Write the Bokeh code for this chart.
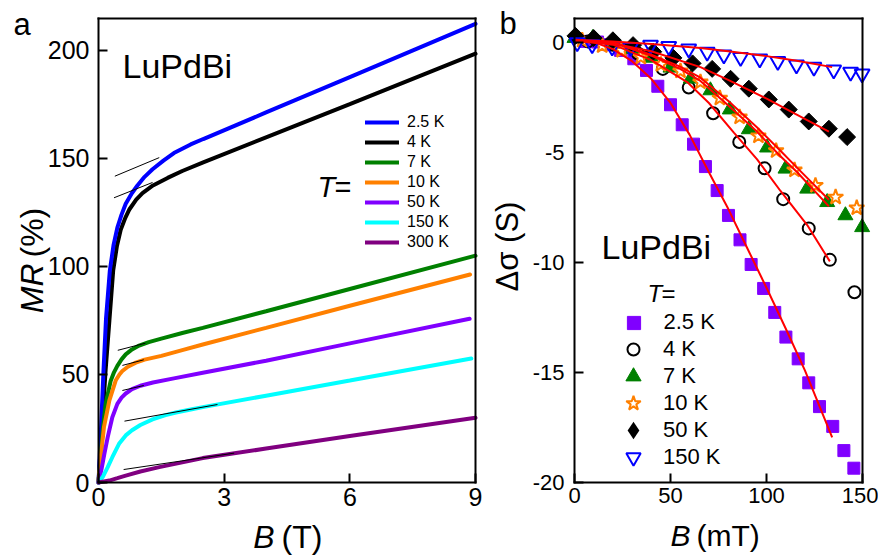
import math
from bokeh.plotting import figure
from bokeh.layouts import row
from bokeh.models import Range1d, FixedTicker, Label, Legend, LegendItem, LinearAxis
from bokeh.embed import file_html
from bokeh.resources import INLINE

FONT = "Liberation Sans"

# ---------------- panel a : MR (%) vs B (T) ----------------
b_25 = [0, 0.06, 0.12, 0.18, 0.27, 0.36, 0.45, 0.55, 0.65, 0.8, 0.93, 1.1, 1.29, 1.55, 1.8, 2.2, 2.5, 4.0, 6.0, 9.0]
mr_25 = [0, 25, 52, 76, 98, 110, 118, 124, 129, 134, 137.5, 141.5, 145, 149, 152.5, 156.5, 159, 171.3, 187.7, 212.3]
b_4 = [0, 0.08, 0.17, 0.26, 0.35, 0.44, 0.53, 0.64, 0.74, 0.9, 1.05, 1.3, 1.65, 2.0, 2.5, 4.0, 6.0, 9.0]
mr_4 = [0, 25, 52, 75, 98, 109.5, 117, 122.5, 126.5, 131, 134, 137.5, 141, 144.2, 148.2, 159.8, 175.2, 198.5]
b_7 = [0, 0.05, 0.1, 0.17, 0.29, 0.37, 0.45, 0.55, 0.65, 0.8, 0.97, 1.2, 1.5, 2.0, 2.49, 4.0, 6.0, 9.0]
mr_7 = [0, 12, 24, 36.4, 47, 51, 54, 57, 59.3, 61.6, 63.4, 65, 66.6, 69.2, 71.6, 79.3, 89.6, 105]
b_10 = [0, 0.05, 0.13, 0.26, 0.41, 0.5, 0.57, 0.7, 0.89, 1.1, 1.5, 2.0, 2.49, 4.0, 6.0, 8.87]
mr_10 = [0, 11, 25.6, 38, 47.2, 50, 51.6, 53.6, 55.5, 56.9, 58.6, 61.3, 63.9, 71.6, 81.8, 96.3]
b_50 = [0, 0.07, 0.14, 0.22, 0.33, 0.45, 0.55, 0.65, 0.8, 1.0, 1.3, 1.8, 2.49, 4.0, 6.0, 8.86]
mr_50 = [0, 6, 13.3, 21, 30.2, 36.4, 39.3, 41.2, 43.2, 44.8, 46.3, 48.2, 50.8, 56.4, 64.4, 75.8]
b_150 = [0, 0.1, 0.22, 0.33, 0.49, 0.65, 0.8, 1.0, 1.29, 1.6, 1.85, 2.2, 2.49, 4.0, 6.0, 8.9]
mr_150 = [0, 2.5, 7.1, 11.7, 17.9, 21.8, 24.2, 26.6, 29.2, 31.2, 32.4, 33.8, 34.9, 40.2, 47.2, 57.4]
b_300 = [0, 0.26, 0.45, 0.65, 1.0, 1.45, 2.0, 2.49, 4.0, 6.0, 9.0]
mr_300 = [0, 0.9, 2.0, 3.2, 5.1, 7.1, 9.3, 11.3, 15.7, 21.5, 30]

# thin linear-fit (tangent) segments: start / end points
tan_b0 = [0.39, 0.37, 0.46, 0.57, 0.57, 0.62, 0.60]
tan_m0 = [141.8, 131.8, 61.2, 54.2, 42.6, 28.4, 6.0]
tan_b1 = [1.45, 1.29, 1.12, 1.08, 1.08, 2.84, 3.24]
tan_m1 = [150.4, 138.9, 64.5, 56.8, 44.9, 36.1, 13.6]

temps_a = ["2.5 K", "4 K", "7 K", "10 K", "50 K", "150 K", "300 K"]
colors_a = ["#0000FF", "#000000", "#008000", "#FF8000", "#8000FF", "#00FFFF", "#800080"]

a_xlim = (0, 9)
a_ylim = (0, 214.8)
a_xticks = [0, 3, 6, 9]
a_yticks = [0, 50, 100, 150, 200]

# ---------------- panel b : delta sigma (S) vs B (mT) ----------------
sq_b = [6, 12, 18, 24, 30.9, 37.5, 43.4, 50, 56.1, 62, 68.2, 74.3, 80.2, 86.2, 92, 98.5,
        104.3, 110.1, 116.5, 122, 127.6, 134.5, 140.3, 145.5]
sq_s = [0.05, 0.02, -0.1, -0.36, -0.74, -1.27, -1.99, -2.83, -3.74, -4.62, -5.64, -6.73,
        -7.86, -8.97, -10.09, -11.18, -12.27, -13.39, -14.38, -15.47, -16.55, -17.45, -18.55, -19.35]
ci_b = [7, 20, 33, 46, 59.5, 72.2, 85.8, 99, 108.7, 122, 133, 145.8]
ci_s = [0.05, -0.1, -0.5, -1.2, -2.05, -3.22, -4.52, -5.72, -7.12, -8.45, -9.88, -11.35]
tr_b = [0, 9.5, 19.5, 30, 40, 50, 60.5, 70.8, 80.9, 90.8, 100.3, 109.9, 121.2, 131.6, 141.1, 149.8]
tr_s = [0.2, 0.2, 0.0, -0.3, -0.7, -1.15, -1.65, -2.18, -3.05, -3.95, -4.78, -5.74, -6.65, -7.26, -7.86, -8.4]
st_b = [4, 14.4, 24.5, 34.5, 45, 55.2, 65.6, 75.7, 86, 95.8, 105, 114.6, 125.5, 136, 147]
st_s = [0.1, -0.15, -0.36, -0.67, -1.0, -1.3, -1.8, -2.53, -3.39, -4.25, -4.92, -5.8, -6.5, -7.03, -7.52]
di_b = [0.5, 10, 20, 30.5, 41, 51.5, 61.5, 71.7, 81.3, 90.8, 101.2, 111.6, 122, 132.5, 142]
di_s = [0.3, 0.2, 0.1, -0.12, -0.42, -0.7, -0.95, -1.2, -1.65, -2.1, -2.59, -3.05, -3.59, -3.92, -4.3]
it_b = [1.4, 9.2, 19.6, 29.2, 39.6, 49.1, 59.5, 69.1, 77.8, 86.5, 96.5, 105.9, 115.6, 124.7, 135, 143.8, 149.8]
it_s = [0.0, -0.1, -0.2, -0.22, -0.12, -0.17, -0.29, -0.44, -0.56, -0.67, -0.74, -0.86, -1.02, -1.12, -1.24, -1.35, -1.42]

# fitted curves (red)
fsq_b = [0, 10, 20, 30, 40, 50, 60, 70, 80, 90, 100, 110, 120, 134.2]
fsq_s = [0.1, 0.02, -0.3, -0.85, -1.65, -2.75, -4.2, -5.9, -7.55, -9.35, -11.15, -13.0, -14.9, -17.95]
fci_b = [0, 20, 40, 58.7, 70, 83, 95, 107.3, 121.2, 133]
fci_s = [0.1, -0.1, -0.8, -1.8, -2.75, -4.1, -5.3, -6.75, -8.3, -9.95]
ftr_b = [0, 20, 40, 55, 65.6, 80, 95, 107, 116, 132.5]
ftr_s = [0.1, 0.0, -0.6, -1.2, -1.75, -2.85, -4.05, -5.15, -5.9, -7.45]
fst_b = [0, 20, 40, 55, 65.6, 80, 95, 107, 116, 132.5]
fst_s = [0.1, 0.0, -0.55, -1.1, -1.6, -2.65, -3.85, -4.9, -5.7, -7.15]
fdi_b = [0, 20, 40, 65.6, 80, 100.3, 115, 132.5]
fdi_s = [0.05, -0.05, -0.4, -1.12, -1.7, -2.56, -3.25, -4.05]
fit_b = [0, 20, 40, 65.6, 80, 100, 115, 134.2]
fit_s = [0.12, 0.05, -0.07, -0.25, -0.4, -0.62, -0.82, -1.12]

temps_b = ["2.5 K", "4 K", "7 K", "10 K", "50 K", "150 K"]
b_xlim = (0, 150)
b_ylim = (-20, 1.09)
b_xticks = [0, 50, 100, 150]
b_yticks = [0, -5, -10, -15, -20]
b_ylabels = {0: "0", -5: "-5", -10: "-10", -15: "-15", -20: "-20"}

# ---------------- layout (pixels) ----------------
H = 556
W1, W2 = 486, 392
A_BOX = (98, 475, 18, 482)      # left, right, top, bottom of panel a box
B_BOX = (88, 376, 18, 482)      # same for panel b (local to its canvas)
OFF = 0.4                        # label anchor -> baseline offset (em)


def ranges(box, W, xlim, ylim):
    l, r, t, b = box
    sx = (r - l) / (xlim[1] - xlim[0])
    sy = (b - t) / (ylim[1] - ylim[0])
    xr = Range1d(xlim[0] - l / sx, xlim[1] + (W - r) / sx)
    yr = Range1d(ylim[0] - (H - b) / sy, ylim[1] + t / sy)
    return xr, yr


def make_fig(W, box, xlim, ylim, xt, yt, fs, ystand, xstand):
    xr, yr = ranges(box, W, xlim, ylim)
    p = figure(width=W, height=H, x_range=xr, y_range=yr, min_border=0,
               output_backend="svg", toolbar_location=None)
    p.grid.visible = False
    p.outline_line_color = None
    p.xaxis.fixed_location = ylim[0]
    p.xaxis.bounds = xlim
    p.yaxis.fixed_location = xlim[0]
    p.yaxis.bounds = ylim
    p.xaxis.ticker = FixedTicker(ticks=xt)
    p.yaxis.ticker = FixedTicker(ticks=yt)
    top = LinearAxis(fixed_location=ylim[1], bounds=xlim, ticker=FixedTicker(ticks=[]))
    right = LinearAxis(fixed_location=xlim[1], bounds=ylim, ticker=FixedTicker(ticks=[]))
    p.add_layout(top, "above")
    p.add_layout(right, "right")
    for ax in p.axis:
        ax.axis_line_width = 2
        ax.axis_line_color = "black"
        ax.axis_line_cap = "square"
        ax.major_tick_in = 9
        ax.major_tick_out = 0
        ax.minor_tick_in = 0
        ax.minor_tick_out = 0
        ax.major_tick_line_width = 2
        ax.major_tick_line_color = "black"
        ax.major_label_text_font = FONT
        ax.major_label_text_font_size = fs
        ax.major_label_text_color = "black"
    p.yaxis[0].major_label_standoff = ystand
    p.xaxis[0].major_label_standoff = xstand
    return p


def lab(p, x, base, text, fs, italic=False, align="left", rotated=False):
    """x: anchor along the text (px); base: baseline position (px from top,
    or from left for rotated texts)."""
    size = float(fs)
    if rotated:
        sx, sy, ang = base - OFF * size, H - x, math.pi / 2
    else:
        sx, sy, ang = x, H - (base - OFF * size), 0.0
    p.add_layout(Label(x=sx, y=sy, x_units="screen", y_units="screen", text=text,
                       text_font=FONT, text_font_size=f"{fs}px",
                       text_font_style="italic" if italic else "normal",
                       text_align=align, text_baseline="alphabetic", angle=ang,
                       text_color="black"))


# ---------------- figure a ----------------
p1 = make_fig(W1, A_BOX, a_xlim, a_ylim, a_xticks, a_yticks, "25px", 9, 17)

series_a = [(b_25, mr_25), (b_4, mr_4), (b_7, mr_7), (b_10, mr_10),
            (b_50, mr_50), (b_150, mr_150), (b_300, mr_300)]
rend_a = {}
for i in [1, 0, 2, 3, 4, 5, 6]:
    bx, my = series_a[i]
    rend_a[i] = p1.line(bx, my, line_color=colors_a[i], line_width=4, line_cap="round")
p1.segment(x0=tan_b0, y0=tan_m0, x1=tan_b1, y1=tan_m1, line_color="black", line_width=1)

leg_a = Legend(items=[LegendItem(label=temps_a[i], renderers=[rend_a[i]]) for i in range(7)],
               location=(365, H - 252), orientation="vertical",
               glyph_width=34, glyph_height=20, label_height=20, spacing=0, padding=0, margin=0,
               label_standoff=8, label_text_font=FONT, label_text_font_size="16px",
               label_text_color="black", background_fill_alpha=0, border_line_alpha=0)
p1.add_layout(leg_a)

lab(p1, 13, 36, "a", 31)
lab(p1, 122, 79, "LuPdBi", 34)
lab(p1, 317, 198, "T", 29, italic=True)
lab(p1, 334, 198, "=", 29)
lab(p1, 263, 44, "MR", 32, italic=True, align="right", rotated=True)
lab(p1, 257, 44, "(%)", 32, align="left", rotated=True)
lab(p1, 274, 549, "B", 32, italic=True, align="right")
lab(p1, 281, 549, "(T)", 32, align="left")

# ---------------- figure b ----------------
X2 = W1  # page x where figure b starts
p2 = make_fig(W2, B_BOX, b_xlim, b_ylim, b_xticks, b_yticks, "22px", 10, 17)
p2.yaxis[0].major_label_overrides = b_ylabels

r_sq = p2.scatter(sq_b, sq_s, marker="square", size=12, fill_color="#8000FF", line_color="#8000FF")
r_ci = p2.scatter(ci_b, ci_s, marker="circle", size=12, fill_color=None, line_color="black", line_width=2)
r_tr = p2.scatter(tr_b, tr_s, marker="triangle", size=15, fill_color="#008000", line_color="#008000")
r_st = p2.scatter(st_b, st_s, marker="star", size=16, fill_color="white", line_color="#FF8000", line_width=2)
# narrow diamond key (used by the legend; fully covered by the square diamonds drawn on top)
r_di_key = p2.scatter(di_b, di_s, marker="diamond", size=15, fill_color="black", line_color=None)
r_di = p2.scatter(di_b, di_s, marker="square", angle=math.pi / 4, size=12, fill_color="black", line_color="black")
r_it = p2.scatter(it_b, it_s, marker="inverted_triangle", size=15, fill_color=None, line_color="#0000FF", line_width=2)

for fb, fsv in [(fsq_b, fsq_s), (fci_b, fci_s), (ftr_b, ftr_s), (fst_b, fst_s), (fdi_b, fdi_s), (fit_b, fit_s)]:
    p2.line(fb, fsv, line_color="#FF0000", line_width=2)

rends_b = [r_sq, r_ci, r_tr, r_st, r_di_key, r_it]
key_box = [33, 30, 38, 38, 44, 36]          # legend glyph box -> marker size = 0.4 * box
KEY_X, LABEL_X, ROW0, PITCH = 633, 663, 322, 27
for i in range(6):
    g = key_box[i]
    cy = ROW0 + PITCH * i
    leg = Legend(items=[LegendItem(label=temps_b[i], renderers=[rends_b[i]])],
                 location=(KEY_X - g / 2 - X2, H - (cy + g / 2)), orientation="vertical",
                 glyph_width=g, glyph_height=g, label_height=g, spacing=0, padding=0, margin=0,
                 label_standoff=int(round(LABEL_X - KEY_X - g / 2)),
                 label_text_font=FONT, label_text_font_size="22px",
                 label_text_color="black", background_fill_alpha=0, border_line_alpha=0)
    p2.add_layout(leg)

lab(p2, 499 - X2, 35, "b", 31)
lab(p2, 601 - X2, 260, "LuPdBi", 34)
lab(p2, 647 - X2, 303, "T", 24, italic=True)
lab(p2, 661 - X2, 303, "=", 24)
lab(p2, 246, 519 - X2, "Δσ (S)", 31, align="center", rotated=True)
lab(p2, 690 - X2, 547, "B", 30, italic=True, align="right")
lab(p2, 696 - X2, 547, "(mT)", 30, align="left")

layout = row(p1, p2)
open("out.html", "w").write(file_html(layout, INLINE))
